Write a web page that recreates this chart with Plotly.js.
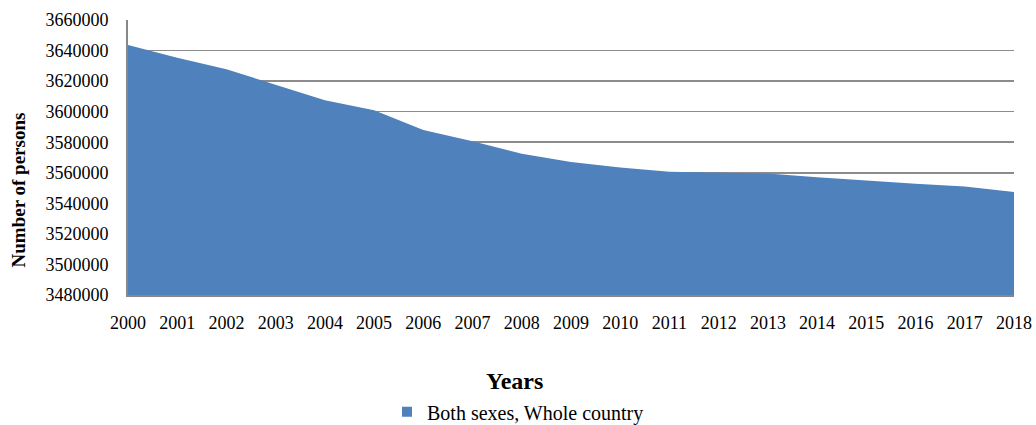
<!DOCTYPE html>
<html>
<head>
<meta charset="utf-8">
<script src="https://cdn.plot.ly/plotly-3.0.1.min.js"></script>
<style>html,body{margin:0;padding:0;background:#fff;}#chart{width:1036px;height:425px;}</style>
</head>
<body>
<div id="chart"></div>
<script>
const years = [2000, 2001, 2002, 2003, 2004, 2005, 2006, 2007, 2008, 2009, 2010, 2011, 2012, 2013, 2014, 2015, 2016, 2017, 2018];
const persons = [3643600, 3635300, 3627700, 3617800, 3607500, 3601000, 3588000, 3580600, 3572500, 3567100, 3563500, 3560700, 3560300, 3559500, 3557000, 3554800, 3552800, 3551000, 3547400];
const seriesName = "Both sexes, Whole country";
const yTicks = [3480000, 3500000, 3520000, 3540000, 3560000, 3580000, 3600000, 3620000, 3640000, 3660000];
const xTitle = "Years";
const yTitle = "Number of persons";

const fontFam = 'Times New Roman, Liberation Serif, serif';
const traces = [
  {
    x: years, y: persons, type: 'scatter', mode: 'lines',
    fill: 'tozeroy', fillcolor: '#4F81BD',
    line: {width: 0, color: '#4F81BD'},
    name: seriesName, showlegend: false, hoverinfo: 'x+y'
  },
  {
    x: [null], y: [null], type: 'scatter', mode: 'markers',
    marker: {symbol: 'square', size: 10, color: '#4F81BD'},
    name: seriesName, showlegend: true
  }
];
const layout = {
  width: 1036, height: 425,
  margin: {l: 128, r: 22, t: 20, b: 130},
  paper_bgcolor: '#fff', plot_bgcolor: '#fff',
  font: {family: fontFam, size: 18, color: '#000'},
  xaxis: {
    type: 'linear', range: [2000, 2018], automargin: false,
    tickvals: years, ticktext: years.map(String),
    showgrid: false, zeroline: false,
    showline: true, linecolor: '#888888', linewidth: 2,
    ticks: 'outside', ticklen: 10, tickcolor: 'rgba(0,0,0,0)',
    tickfont: {family: fontFam, size: 18, color: '#000'}
  },
  yaxis: {
    range: [3480000, 3660000], automargin: false,
    tickvals: yTicks, ticktext: yTicks.map(String),
    showgrid: true, gridcolor: '#8c8c8c', gridwidth: 1.5,
    zeroline: false,
    showline: true, linecolor: '#888888', linewidth: 2,
    ticks: 'outside', ticklen: 14, tickcolor: 'rgba(0,0,0,0)',
    tickfont: {family: fontFam, size: 18, color: '#000'}
  },
  annotations: [
    {text: '<b>' + xTitle + '</b>', xref: 'paper', yref: 'paper', x: 0.4357, y: -0.313,
     xanchor: 'center', yanchor: 'middle', showarrow: false,
     font: {family: fontFam, size: 24, color: '#000'}},
    {text: '<b>' + yTitle + '</b>', xref: 'paper', yref: 'paper', x: -0.1236, y: 0.382,
     xanchor: 'center', yanchor: 'middle', showarrow: false, textangle: -90,
     font: {family: fontFam, size: 19, color: '#000'}}
  ],
  showlegend: true,
  legend: {
    orientation: 'h', xref: 'container', yref: 'container',
    x: 0.5, xanchor: 'center', y: 0.031, yanchor: 'middle',
    font: {family: fontFam, size: 20, color: '#000'},
    itemwidth: 30, bgcolor: 'rgba(0,0,0,0)'
  }
};
Plotly.newPlot('chart', traces, layout, {staticPlot: true});
</script>
</body>
</html>
